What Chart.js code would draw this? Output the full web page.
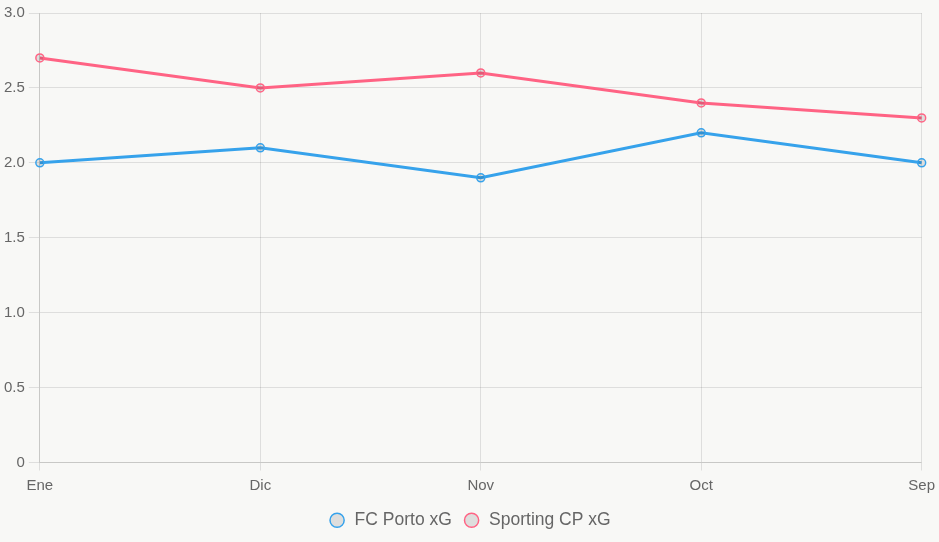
<!DOCTYPE html>
<html>
<head>
<meta charset="utf-8">
<script src="https://cdn.jsdelivr.net/npm/chart.js@4.4.0/dist/chart.umd.min.js"></script>
<style>
html,body{margin:0;padding:0;background:#f8f8f6;}
#wrap{width:939px;height:542px;position:relative;}
</style>
</head>
<body>
<div id="wrap"><canvas id="c"></canvas></div>
<script>
const categories = ["Ene", "Dic", "Nov", "Oct", "Sep"];
const portoXG = [2.0, 2.1, 1.9, 2.2, 2.0];
const sportingXG = [2.7, 2.5, 2.6, 2.4, 2.3];
const seriesNames = ["FC Porto xG", "Sporting CP xG"];

Chart.defaults.font.family = "'Liberation Sans', Arial, sans-serif";
Chart.defaults.color = "#666";

new Chart(document.getElementById('c'), {
  type: 'line',
  data: {
    labels: categories,
    datasets: [
      { label: seriesNames[0], data: portoXG, borderColor: '#36A2EB', backgroundColor: 'rgba(0,0,0,0.1)', borderWidth: 3, pointRadius: 4, pointBorderWidth: 1.5, tension: 0 },
      { label: seriesNames[1], data: sportingXG, borderColor: '#FF6384', backgroundColor: 'rgba(0,0,0,0.1)', borderWidth: 3, pointRadius: 4, pointBorderWidth: 1.5, tension: 0 }
    ]
  },
  options: {
    responsive: true,
    maintainAspectRatio: false,
    animation: false,
    layout: { padding: { top: 4, bottom: 3, left: 0, right: 0 } },
    plugins: {
      legend: { position: 'bottom', labels: { usePointStyle: true, boxHeight: 10, font: { size: 17.5 }, padding: 11 } },
      tooltip: { enabled: false }
    },
    scales: {
      x: {
        grid: { color: 'rgba(0,0,0,0.1)' },
        ticks: { font: { size: 15 }, padding: 6 },
        afterFit: s => { s.paddingRight = Math.max(s.paddingRight - 2, 0); }
      },
      y: { min: 0, max: 3, ticks: { stepSize: 0.5, font: { size: 15 }, padding: 4, callback: v => v === 0 ? '0' : v.toFixed(1) }, grid: { color: 'rgba(0,0,0,0.1)', tickLength: 11 } }
    }
  }
});
</script>
</body>
</html>
